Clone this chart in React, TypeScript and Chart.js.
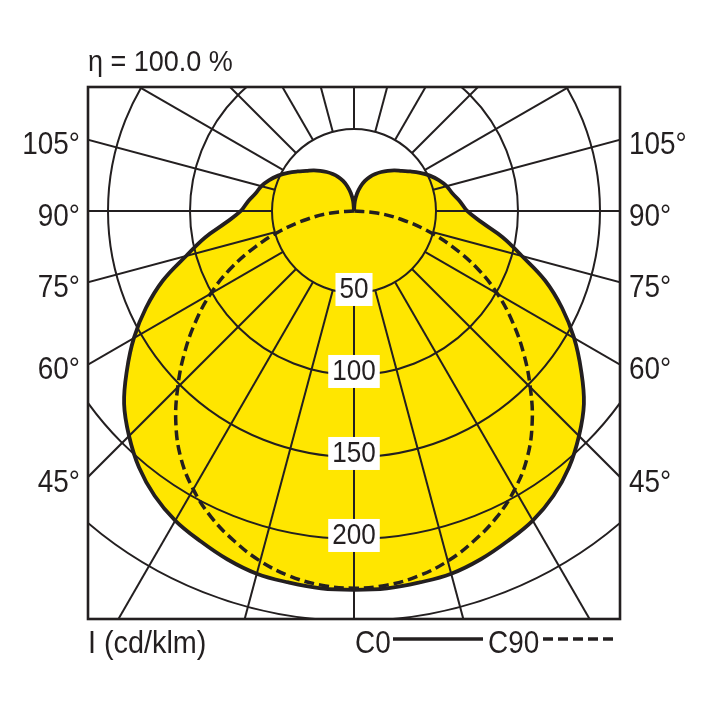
import { useEffect, useRef } from "react";
import { Chart, registerables } from "chart.js";

Chart.register(...registerables);

// luminous intensity, cd/klm, gamma measured from nadir (deg)
const gammaC0 = [0, 5, 10, 15, 20, 25, 30, 35, 40, 45, 50, 55, 60, 65, 70, 75, 80, 85, 90,
  95, 100, 105, 110, 115, 120, 125, 130, 135, 140, 145, 150, 155, 160, 165, 170, 175, 180];
const valuesC0 = [231, 231, 230, 229, 226, 222, 218, 212, 204, 194, 183, 169, 155, 140, 124, 106, 92, 78, 69,
  65, 61, 58.5, 55, 51, 46.5, 42, 38, 35, 32, 29, 26, 23, 19.5, 15.5, 11, 6, 0];
const gammaC90 = [0, 5, 10, 15, 20, 25, 30, 35, 40, 45, 50, 55, 60, 65, 70, 75, 80, 85, 90];
const valuesC90 = [230, 229, 226, 221, 214, 206, 196, 184, 169, 152, 135, 118, 101, 83, 64, 46, 29, 14, 0];

const ringValues = [50, 100, 150, 200, 250, 300];
const ringLabels = ["50", "100", "150", "200"];
const spokeAngles = [0, 15, 30, 45, 60, 75, 90, 105, 120, 135, 150, 165, 180];
const angleLabels = [45, 60, 75, 90, 105];

const titleText = "η = 100.0 %";
const unitText = "I (cd/klm)";

const ink = "#231f20";
const yellow = "#ffe600";
const font = "'Liberation Sans', Arial, sans-serif";
const squeeze = 0.9; // condensed look

const rad = (g) => (g * Math.PI) / 180;

// both halves of a curve, left side from top to nadir, right side back up
function curve(gammas, values) {
  const pts = [];
  for (let i = gammas.length - 1; i >= 0; i--) {
    pts.push({ x: -values[i] * Math.sin(rad(gammas[i])), y: -values[i] * Math.cos(rad(gammas[i])) });
  }
  for (let i = 1; i < gammas.length; i++) {
    pts.push({ x: values[i] * Math.sin(rad(gammas[i])), y: -values[i] * Math.cos(rad(gammas[i])) });
  }
  return pts;
}

function text(ctx, t, x, y, size, align = "left", baseline = "alphabetic") {
  ctx.save();
  ctx.font = `${size}px ${font}`;
  ctx.textAlign = align;
  ctx.textBaseline = baseline;
  ctx.translate(x, y);
  ctx.scale(squeeze, 1);
  ctx.fillText(t, 0, 0);
  ctx.restore();
}

const polarGrid = {
  id: "polarGrid",
  afterDatasetDraw(chart, args) {
    if (args.index !== 2) return;
    const { ctx, chartArea: a, scales } = chart;
    const { x, y } = scales;
    const cx = x.getPixelForValue(0);
    const cy = y.getPixelForValue(0);
    const k = x.getPixelForValue(1) - cx;
    ctx.save();
    ctx.beginPath();
    ctx.rect(a.left, a.top, a.right - a.left, a.bottom - a.top);
    ctx.clip();
    ctx.strokeStyle = ink;
    ctx.lineWidth = 2;
    ringValues.forEach((v) => {
      ctx.beginPath();
      ctx.arc(cx, cy, v * k, 0, Math.PI * 2);
      ctx.stroke();
    });
    spokeAngles.forEach((g) => {
      [1, -1].forEach((s) => {
        const sn = Math.sin(rad(g));
        const cs = Math.cos(rad(g));
        ctx.beginPath();
        ctx.moveTo(x.getPixelForValue(s * 50 * sn), y.getPixelForValue(-50 * cs));
        ctx.lineTo(x.getPixelForValue(s * 600 * sn), y.getPixelForValue(-600 * cs));
        ctx.stroke();
      });
    });
    ctx.restore();
  },
  afterDatasetsDraw(chart) {
    const { ctx, chartArea: a, scales } = chart;
    const { x, y } = scales;
    const cx = x.getPixelForValue(0);
    const cy = y.getPixelForValue(0);
    const k = x.getPixelForValue(1) - cx;
    ctx.save();
    ctx.strokeStyle = ink;
    ctx.lineWidth = 2.6;
    ctx.strokeRect(a.left, a.top, a.right - a.left, a.bottom - a.top);

    ctx.fillStyle = ink;
    ringLabels.forEach((t) => {
      const py = cy + Number(t) * k - 4;
      ctx.font = `29px ${font}`;
      const w = ctx.measureText(t).width * squeeze + 8;
      ctx.fillStyle = "#ffffff";
      ctx.fillRect(cx - w / 2, py - 16, w, 33);
      ctx.fillStyle = ink;
      text(ctx, t, cx, py + 1, 29, "center", "middle");
    });

    angleLabels.forEach((g) => {
      const dx = a.right - cx;
      const py = cy + (dx * Math.cos(rad(g))) / Math.sin(rad(g)) + 6;
      text(ctx, g + "°", a.left - 8, py, 31, "right", "middle");
      text(ctx, g + "°", a.right + 9, py, 31, "left", "middle");
    });

    text(ctx, titleText, a.left, 71, 30);
    text(ctx, unitText, a.left, 653, 32);
    text(ctx, "C0", 355, 653, 31);
    text(ctx, "C90", 488, 653, 31);
    ctx.lineWidth = 3.5;
    ctx.beginPath();
    ctx.moveTo(393, 639);
    ctx.lineTo(483, 639);
    ctx.stroke();
    ctx.setLineDash([10, 5]);
    ctx.beginPath();
    ctx.moveTo(543, 639);
    ctx.lineTo(615, 639);
    ctx.stroke();
    ctx.restore();
  },
};

export default function App() {
  const chartRef = useRef(null);
  const chartInstance = useRef(null);
  useEffect(() => {
    const ctx = chartRef.current?.getContext("2d");
    const c0 = curve(gammaC0, valuesC0);
    const c90 = curve(gammaC90, valuesC90);
    chartInstance.current = new Chart(ctx, {
      type: "scatter",
      data: {
        datasets: [
          {
            label: "C90",
            data: c90,
            showLine: true,
            borderColor: ink,
            borderWidth: 3.5,
            borderDash: [10, 5],
            pointRadius: 0,
            tension: 0.4,
            fill: false,
          },
          {
            label: "C0",
            data: c0,
            showLine: true,
            borderColor: ink,
            borderWidth: 3.8,
            pointRadius: 0,
            tension: 0.4,
            fill: false,
          },
          {
            label: "C0 area",
            data: c0,
            showLine: true,
            borderWidth: 0,
            borderColor: "rgba(0,0,0,0)",
            backgroundColor: yellow,
            pointRadius: 0,
            tension: 0.4,
            fill: "shape",
          },
        ],
      },
      options: {
        animation: false,
        responsive: true,
        maintainAspectRatio: false,
        layout: { padding: { left: 88, top: 87, right: 88, bottom: 89 } },
        scales: {
          x: { type: "linear", display: false, min: -162.2, max: 162.2 },
          y: { type: "linear", display: false, min: -248.8, max: 75.6 },
        },
        plugins: {
          legend: { display: false },
          tooltip: { enabled: false },
          title: { display: false },
        },
      },
      plugins: [polarGrid],
    });
    return () => {
      chartInstance.current.destroy();
    };
  }, []);

  return (
    <div style={{ position: "fixed", left: 0, top: 0, width: 708, height: 708, background: "#ffffff" }}>
      <canvas ref={chartRef} />
    </div>
  );
}
